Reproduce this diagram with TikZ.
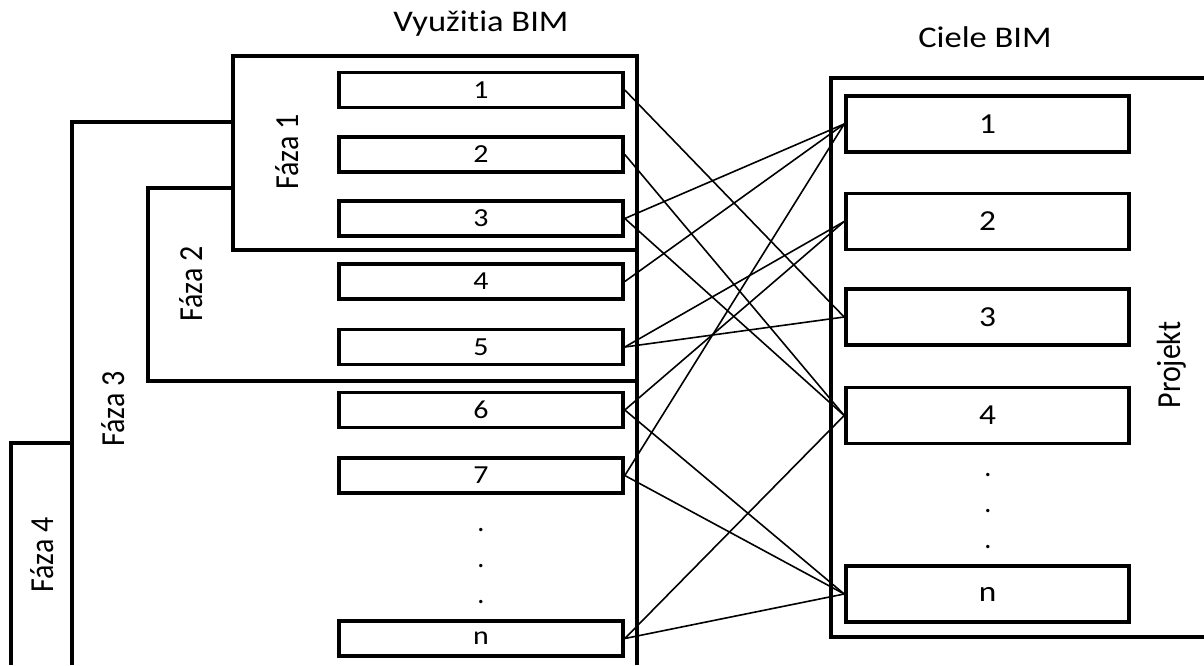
\documentclass[tikz,border=0pt]{standalone}
\usepackage{graphicx}
\usepackage{fontspec}
\setmainfont{Carlito}[Ligatures=NoCommon]
\newcommand{\hstretch}[1]{\scalebox{1.15}[1]{#1}}
\newcommand{\vstretch}[1]{\scalebox{1}[1.12]{#1}}
\begin{document}
\begin{tikzpicture}[x=1pt,y=-1pt,
  frame/.style={line width=3.2pt},
  usebox/.style={draw, line width=3.6pt, minimum width=284pt, minimum height=35pt, inner sep=0pt, font=\fontsize{26}{26}\selectfont},
  goalbox/.style={draw, line width=3.6pt, minimum width=283pt, minimum height=56pt, inner sep=0pt, font=\fontsize{29}{29}\selectfont},
  link/.style={line width=1.6pt},
  lbl/.style={font=\fontsize{30}{30}\selectfont, inner sep=0pt},
  vlbl/.style={lbl, rotate=90, anchor=base},
  dotl/.style={font=\fontsize{28}{28}\selectfont, inner sep=0pt, anchor=base}
]
\useasboundingbox (0,0) rectangle (1204,665);

% phase frames (left)
\draw[frame] (637,665) -- (637,56) -- (233,56) -- (233,250) -- (637,250);
\draw[frame] (72,665) -- (72,122) -- (233,122);
\draw[frame] (233,188) -- (148,188) -- (148,381) -- (637,381);
\draw[frame] (11,665) -- (11,443) -- (72,443);

% project frame (right)
\draw[frame] (1204,78) -- (831,78) -- (831,637) -- (1204,637);

% headings
\node[lbl, anchor=base] (hUse) at (481,31) {\hstretch{Využitia BIM}};
\node[lbl, anchor=base] (hGoal) at (985,47) {\hstretch{Ciele BIM}};

% phase labels
\node[vlbl] (f1) at (298,152) {\vstretch{Fáza 1}};
\node[vlbl] (f2) at (202,284) {\vstretch{Fáza 2}};
\node[vlbl] (f3) at (124,409) {\vstretch{Fáza 3}};
\node[vlbl] (f4) at (53,555) {\vstretch{Fáza 4}};
\node[vlbl] (proj) at (1180,365) {\vstretch{Projekt}};

% BIM uses
\node[usebox] (L1) at (481,90) {\hstretch{1}};
\node[usebox] (L2) at (481,154.5) {\hstretch{2}};
\node[usebox] (L3) at (481,218.5) {\hstretch{3}};
\node[usebox] (L4) at (481,281.5) {\hstretch{4}};
\node[usebox] (L5) at (481,347) {\hstretch{5}};
\node[usebox] (L6) at (481,410) {\hstretch{6}};
\node[usebox] (L7) at (481,475.5) {\hstretch{7}};
\node[usebox] (Ln) at (481,638.5) {\hstretch{n}};
\node[dotl] (ld1) at (481,531) {.};
\node[dotl] (ld2) at (481,567) {.};
\node[dotl] (ld3) at (481,603) {.};

% BIM goals
\node[goalbox] (R1) at (987.5,124) {\hstretch{1}};
\node[goalbox] (R2) at (987.5,221.5) {\hstretch{2}};
\node[goalbox] (R3) at (987.5,317) {\hstretch{3}};
\node[goalbox] (R4) at (987.5,415.5) {\hstretch{4}};
\node[goalbox] (Rn) at (987.5,594) {\hstretch{n}};
\node[dotl] (rd1) at (988,476) {.};
\node[dotl] (rd2) at (988,512) {.};
\node[dotl] (rd3) at (988,548) {.};

% connectors
\draw[link] (L1.east) -- (R3.west);
\draw[link] (L2.east) -- (R4.west);
\draw[link] (L3.east) -- (R1.west);
\draw[link] (L3.east) -- (R4.west);
\draw[link] (L4.east) -- (R1.west);
\draw[link] (L5.east) -- (R2.west);
\draw[link] (L5.east) -- (R3.west);
\draw[link] (L6.east) -- (R2.west);
\draw[link] (L6.east) -- (Rn.west);
\draw[link] (L7.east) -- (R1.west);
\draw[link] (L7.east) -- (Rn.west);
\draw[link] (Ln.east) -- (R4.west);
\draw[link] (Ln.east) -- (Rn.west);
\end{tikzpicture}
\end{document}
